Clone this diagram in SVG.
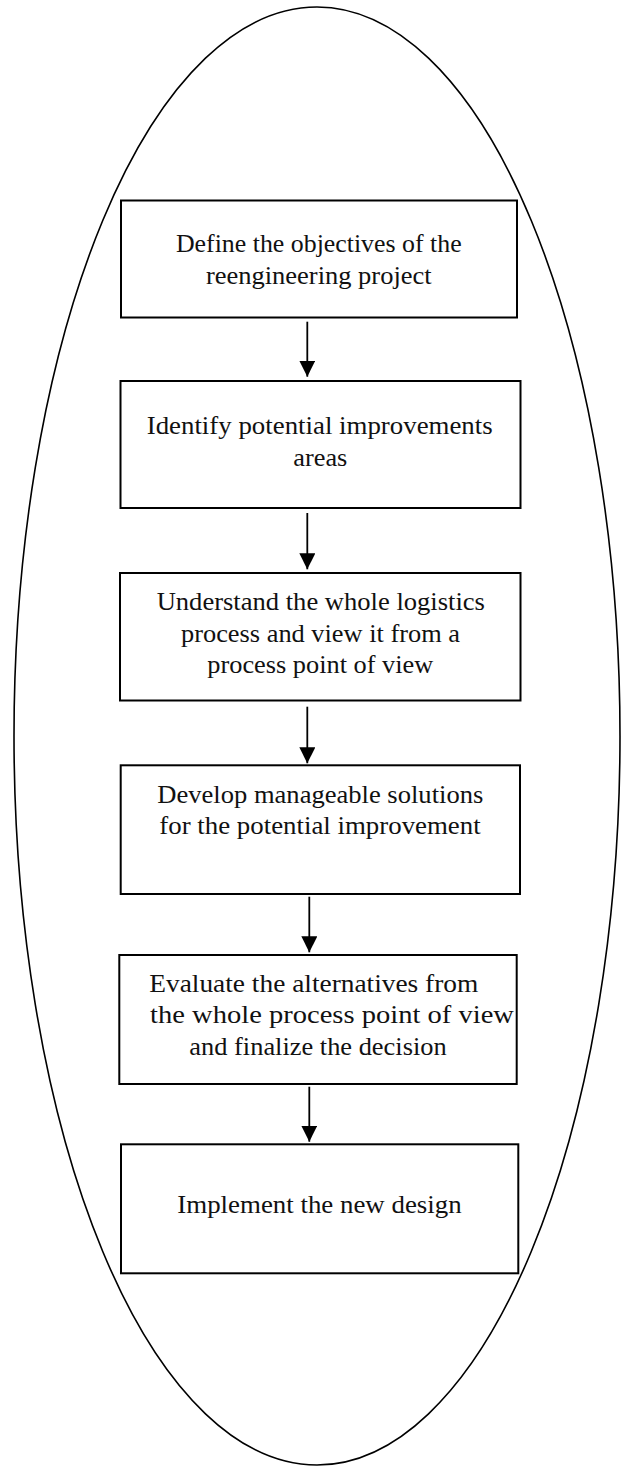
<svg xmlns="http://www.w3.org/2000/svg" width="621" height="1466" viewBox="0 0 621 1466">
<style>
.box{fill:#fff;stroke:#000;stroke-width:2}
.lbl{font-family:"Liberation Serif","Times New Roman",serif;font-size:24.5px;fill:#111;text-anchor:middle}
.conn{stroke:#000;stroke-width:1.8;fill:none}
</style>
<defs>
<marker id="ah" markerUnits="userSpaceOnUse" markerWidth="16" markerHeight="16" viewBox="0 0 15 15" refX="15" refY="7.5" orient="auto">
<path d="M0,0 L15,7.5 L0,15 z" fill="#000"/>
</marker>
</defs>
<rect width="621" height="1466" fill="#fff"/>
<ellipse id="outline" cx="317" cy="736" rx="303" ry="729" fill="none" stroke="#000" stroke-width="1.6"/>
<g id="n1">
<rect class="box" x="121" y="200.5" width="396" height="117"/>
<text class="lbl" x="318.8" y="252.3" textLength="285.7" lengthAdjust="spacingAndGlyphs">Define the objectives of the</text>
<text class="lbl" x="318.8" y="284" textLength="225.7" lengthAdjust="spacingAndGlyphs">reengineering project</text>
</g>
<g id="n2">
<rect class="box" x="120.5" y="381" width="400" height="127"/>
<text class="lbl" x="319.7" y="434" textLength="346" lengthAdjust="spacingAndGlyphs">Identify potential improvements</text>
<text class="lbl" x="320.3" y="465.5" textLength="54" lengthAdjust="spacingAndGlyphs">areas</text>
</g>
<g id="n3">
<rect class="box" x="120" y="573" width="400.5" height="127.5"/>
<text class="lbl" x="320.8" y="610" textLength="328.3" lengthAdjust="spacingAndGlyphs">Understand the whole logistics</text>
<text class="lbl" x="320.5" y="641.7" textLength="279" lengthAdjust="spacingAndGlyphs">process and view it from a</text>
<text class="lbl" x="320.3" y="673.3" textLength="226" lengthAdjust="spacingAndGlyphs">process point of view</text>
</g>
<g id="n4">
<rect class="box" x="120.7" y="765.3" width="399.3" height="128.7"/>
<text class="lbl" x="320.3" y="802.7" textLength="326" lengthAdjust="spacingAndGlyphs">Develop manageable solutions</text>
<text class="lbl" x="320" y="834" textLength="321.3" lengthAdjust="spacingAndGlyphs">for the potential improvement</text>
</g>
<g id="n5">
<rect class="box" x="119.3" y="955" width="397.4" height="129"/>
<text class="lbl" x="313.8" y="991.7" textLength="329" lengthAdjust="spacingAndGlyphs">Evaluate the alternatives from</text>
<text class="lbl" x="332" y="1023.3" textLength="364" lengthAdjust="spacingAndGlyphs">the whole process point of view</text>
<text class="lbl" x="318" y="1055" textLength="257.3" lengthAdjust="spacingAndGlyphs">and finalize the decision</text>
</g>
<g id="n6">
<rect class="box" x="121" y="1144.3" width="397.3" height="129"/>
<text class="lbl" x="319.5" y="1212.7" textLength="284.3" lengthAdjust="spacingAndGlyphs">Implement the new design</text>
</g>
<g id="connectors">
<line class="conn" x1="307.3" y1="321.7" x2="307.3" y2="376.7" marker-end="url(#ah)"/>
<line class="conn" x1="307.3" y1="513" x2="307.3" y2="569.3" marker-end="url(#ah)"/>
<line class="conn" x1="307.3" y1="706.7" x2="307.3" y2="763.3" marker-end="url(#ah)"/>
<line class="conn" x1="309.3" y1="896.7" x2="309.3" y2="952.3" marker-end="url(#ah)"/>
<line class="conn" x1="309.3" y1="1086.7" x2="309.3" y2="1141.7" marker-end="url(#ah)"/>
</g>
</svg>
